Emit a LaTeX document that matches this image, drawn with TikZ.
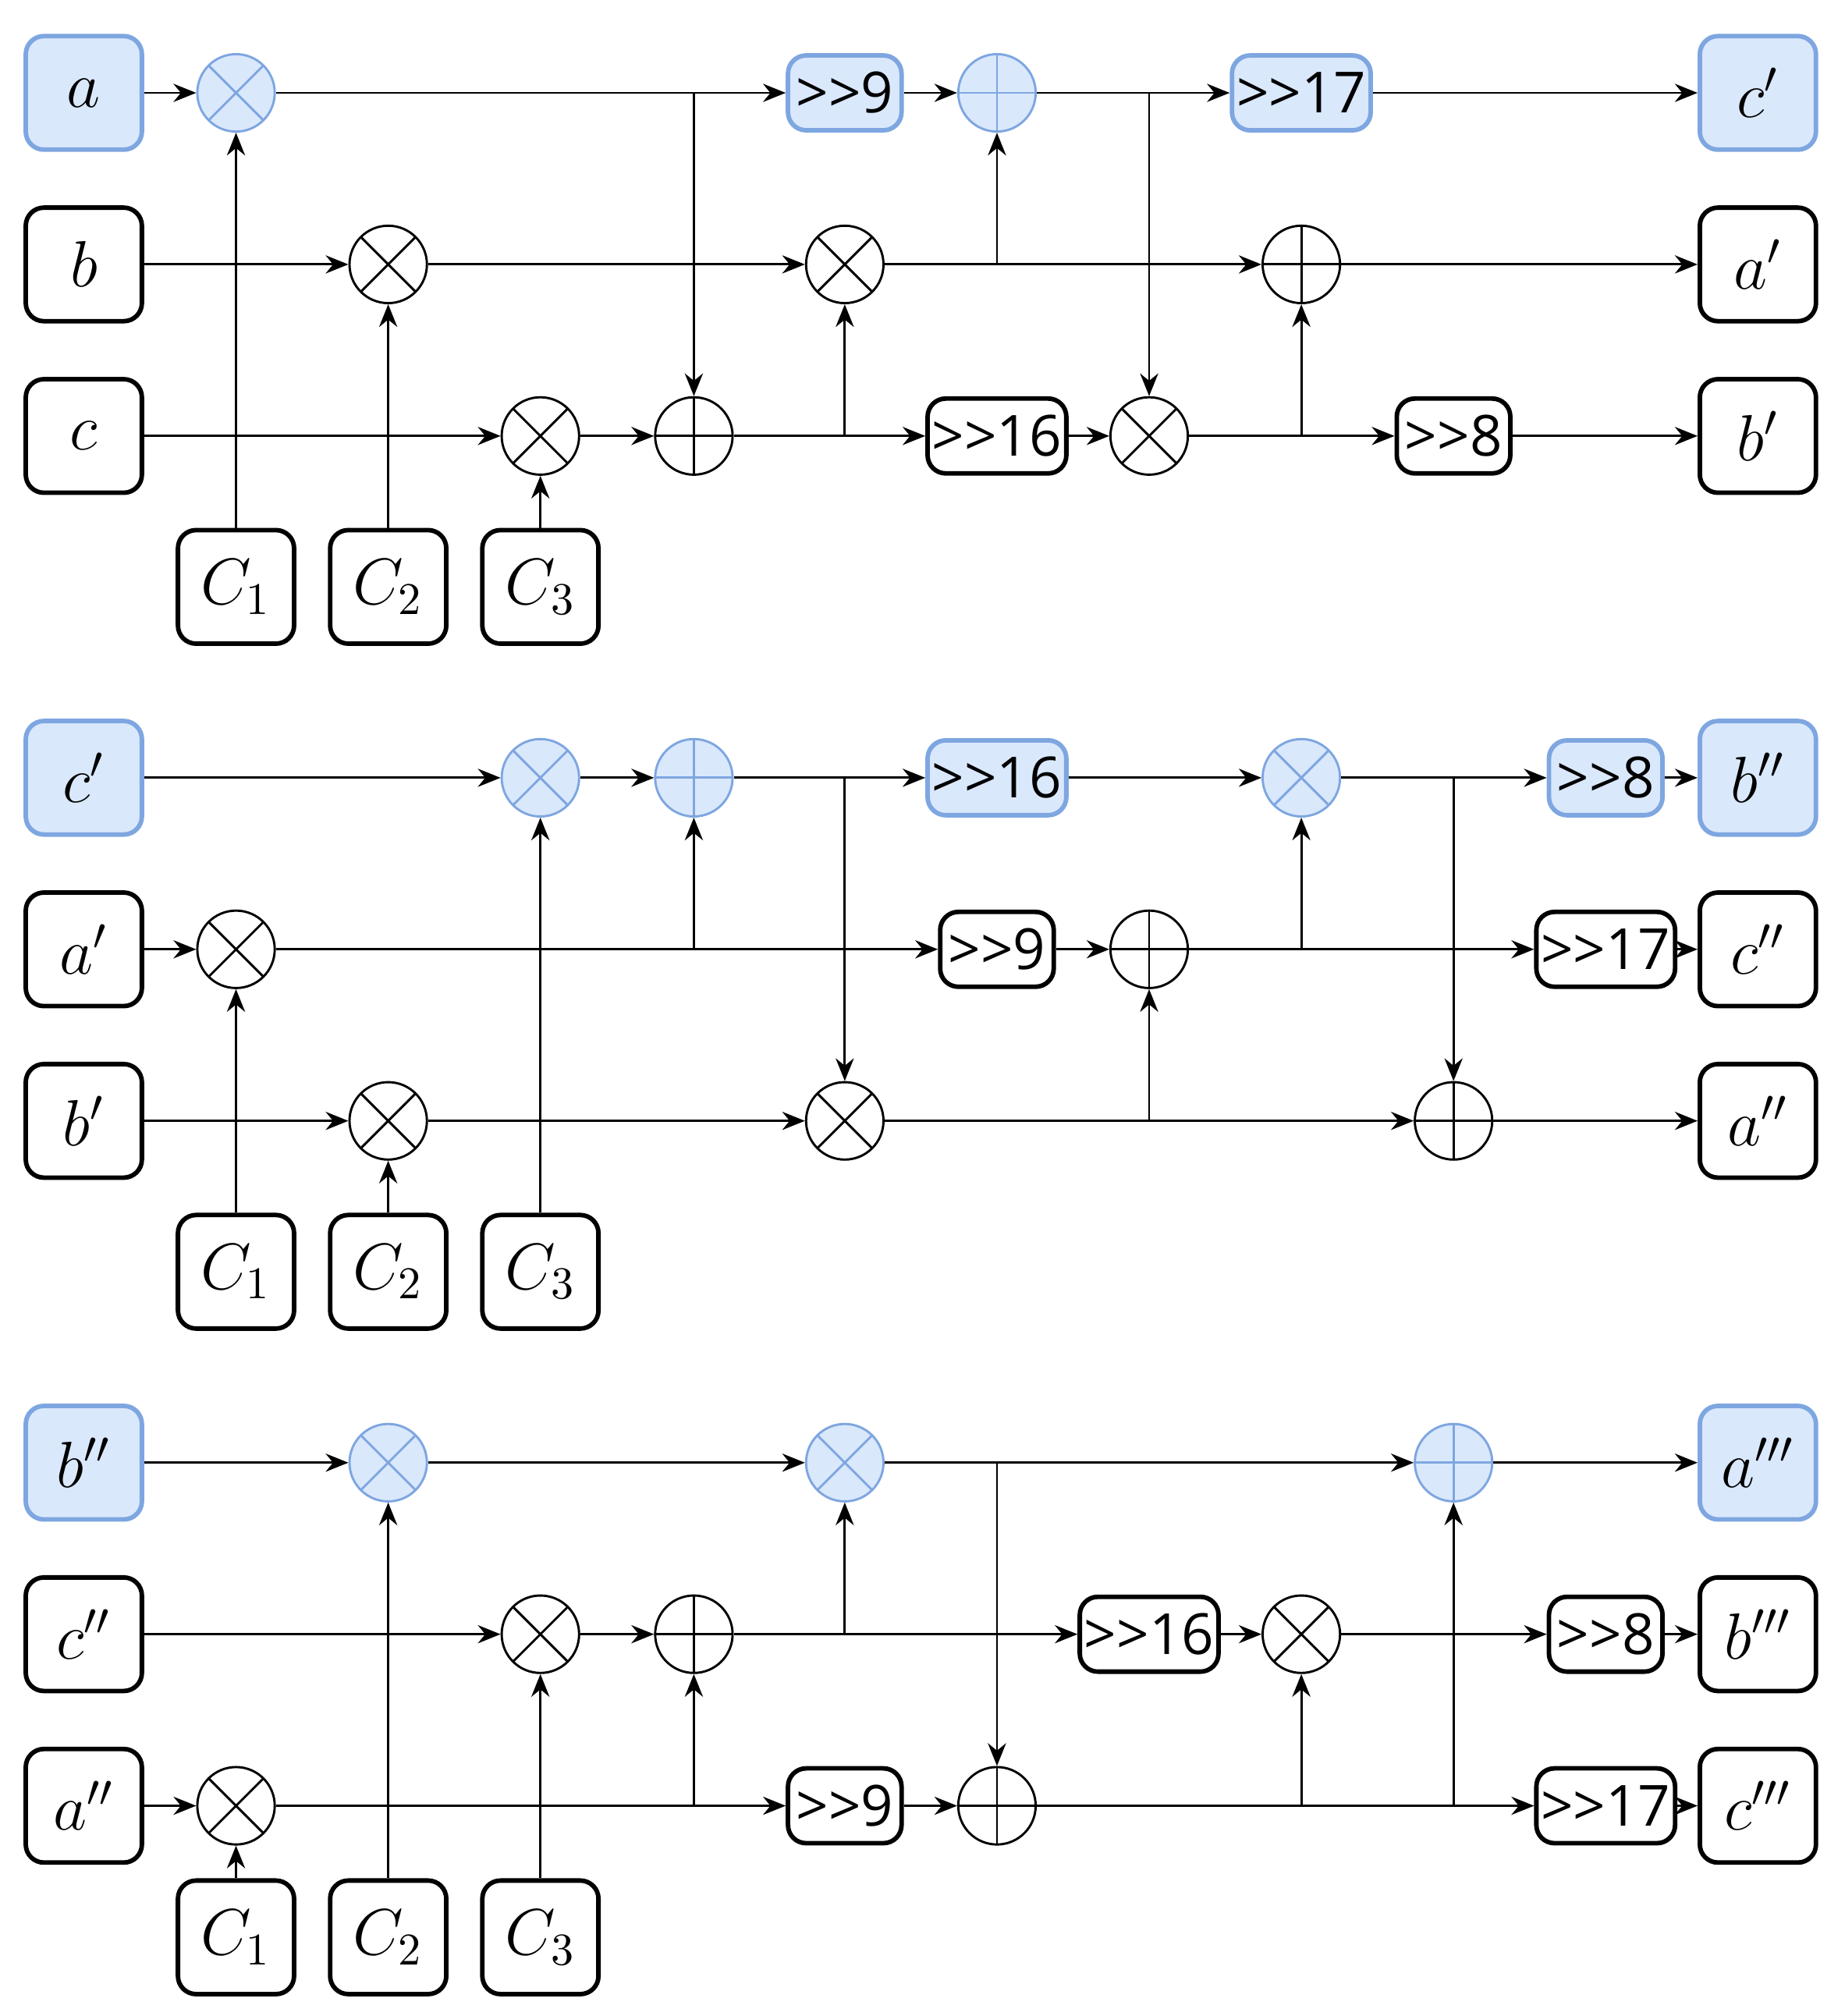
\documentclass[tikz,border=0pt]{standalone}
\usepackage{fontspec}
\newfontfamily\shiftfont{Open Sans}
\usetikzlibrary{arrows.meta}
\definecolor{hlfill}{HTML}{DAE8FC}
\definecolor{hldraw}{HTML}{7EA6E0}
\tikzset{
  box/.style={draw,rounded corners=4pt,line width=1pt,minimum width=0.9cm,minimum height=0.88cm,font=\fontsize{14}{16}\selectfont},
  sh/.style={draw,rounded corners=4pt,line width=1pt,minimum width=0.88cm,minimum height=0.58cm,font=\shiftfont\fontsize{12.5}{14}\selectfont,inner sep=1pt},
  mul/.style={circle,draw,minimum size=0.6cm,inner sep=0pt,path picture={
      \draw (path picture bounding box.north west) -- (path picture bounding box.south east)
            (path picture bounding box.north east) -- (path picture bounding box.south west);}},
  add/.style={circle,draw,minimum size=0.6cm,inner sep=0pt,path picture={
      \draw (path picture bounding box.north) -- (path picture bounding box.south)
            (path picture bounding box.west) -- (path picture bounding box.east);}},
  hl/.style={fill=hlfill,draw=hldraw},
  >={Stealth[length=5pt,width=4pt]}
}
\begin{document}
\begin{tikzpicture}[x=0.01cm,y=-0.01cm,line width=0.5pt]
\useasboundingbox (0,0) rectangle (1430,1563);
% block 1
\node[box,hl] (ia1) at (65,72) {$a$};
\node[box] (ib1) at (65,205) {$b$};
\node[box] (ic1) at (65,338) {$c$};
\node[box,hl] (oa1) at (1363,72) {$c'$};
\node[box] (ob1) at (1363,205) {$a'$};
\node[box] (oc1) at (1363,338) {$b'$};
\node[box] (ka1) at (183,455) {$C_1$};
\node[box] (kb1) at (301,455) {$C_2$};
\node[box] (kc1) at (419,455) {$C_3$};
\node[mul,hl] (m11) at (183,72) {};
\node[sh,hl] (s11) at (655,72) {>>9};
\node[add,hl] (p11) at (773,72) {};
\node[sh,hl] (s12) at (1009,72) {>>17};
\node[mul] (m12) at (301,205) {};
\node[mul] (m13) at (655,205) {};
\node[add] (p12) at (1009,205) {};
\node[mul] (m14) at (419,338) {};
\node[add] (p13) at (538,338) {};
\node[sh] (s13) at (773,338) {>>16};
\node[mul] (m15) at (891,338) {};
\node[sh] (s14) at (1127,338) {>>8};
\coordinate (j11) at (538,72);
\coordinate (j12) at (891,72);
\coordinate (j13) at (773,205);
\coordinate (j14) at (655,338);
\coordinate (j15) at (1009,338);
\draw[->] (ia1) -- (m11);
\draw[->] (m11) -- (s11);
\draw[->] (s11) -- (p11);
\draw[->] (p11) -- (s12);
\draw[->] (s12) -- (oa1);
\draw[->] (ib1) -- (m12);
\draw[->] (m12) -- (m13);
\draw[->] (m13) -- (p12);
\draw[->] (p12) -- (ob1);
\draw[->] (ic1) -- (m14);
\draw[->] (m14) -- (p13);
\draw[->] (p13) -- (s13);
\draw[->] (s13) -- (m15);
\draw[->] (m15) -- (s14);
\draw[->] (s14) -- (oc1);
\draw[->] (j11) -- (p13);
\draw[->] (j12) -- (m15);
\draw[->] (j13) -- (p11);
\draw[->] (j14) -- (m13);
\draw[->] (j15) -- (p12);
\draw[->] (ka1) -- (m11);
\draw[->] (kb1) -- (m12);
\draw[->] (kc1) -- (m14);
% block 2
\node[box,hl] (ia2) at (65,603) {$c'$};
\node[box] (ib2) at (65,736) {$a'$};
\node[box] (ic2) at (65,869) {$b'$};
\node[box,hl] (oa2) at (1363,603) {$b''$};
\node[box] (ob2) at (1363,736) {$c''$};
\node[box] (oc2) at (1363,869) {$a''$};
\node[box] (ka2) at (183,986) {$C_1$};
\node[box] (kb2) at (301,986) {$C_2$};
\node[box] (kc2) at (419,986) {$C_3$};
\node[mul,hl] (m21) at (419,603) {};
\node[add,hl] (p21) at (538,603) {};
\node[sh,hl] (s21) at (773,603) {>>16};
\node[mul,hl] (m22) at (1009,603) {};
\node[sh,hl] (s22) at (1245,603) {>>8};
\node[mul] (m23) at (183,736) {};
\node[sh] (s23) at (773,736) {>>9};
\node[add] (p22) at (891,736) {};
\node[sh] (s24) at (1245,736) {>>17};
\node[mul] (m24) at (301,869) {};
\node[mul] (m25) at (655,869) {};
\node[add] (p23) at (1127,869) {};
\coordinate (j21) at (655,603);
\coordinate (j22) at (1127,603);
\coordinate (j23) at (538,736);
\coordinate (j24) at (1009,736);
\coordinate (j25) at (891,869);
\draw[->] (ia2) -- (m21);
\draw[->] (m21) -- (p21);
\draw[->] (p21) -- (s21);
\draw[->] (s21) -- (m22);
\draw[->] (m22) -- (s22);
\draw[->] (s22) -- (oa2);
\draw[->] (ib2) -- (m23);
\draw[->] (m23) -- (s23);
\draw[->] (s23) -- (p22);
\draw[->] (p22) -- (s24);
\draw[->] (s24) -- (ob2);
\draw[->] (ic2) -- (m24);
\draw[->] (m24) -- (m25);
\draw[->] (m25) -- (p23);
\draw[->] (p23) -- (oc2);
\draw[->] (j21) -- (m25);
\draw[->] (j22) -- (p23);
\draw[->] (j23) -- (p21);
\draw[->] (j24) -- (m22);
\draw[->] (j25) -- (p22);
\draw[->] (ka2) -- (m23);
\draw[->] (kb2) -- (m24);
\draw[->] (kc2) -- (m21);
% block 3
\node[box,hl] (ia3) at (65,1134) {$b''$};
\node[box] (ib3) at (65,1267) {$c''$};
\node[box] (ic3) at (65,1400) {$a''$};
\node[box,hl] (oa3) at (1363,1134) {$a'''$};
\node[box] (ob3) at (1363,1267) {$b'''$};
\node[box] (oc3) at (1363,1400) {$c'''$};
\node[box] (ka3) at (183,1502) {$C_1$};
\node[box] (kb3) at (301,1502) {$C_2$};
\node[box] (kc3) at (419,1502) {$C_3$};
\node[mul,hl] (m31) at (301,1134) {};
\node[mul,hl] (m32) at (655,1134) {};
\node[add,hl] (p31) at (1127,1134) {};
\node[mul] (m33) at (419,1267) {};
\node[add] (p32) at (538,1267) {};
\node[sh] (s31) at (891,1267) {>>16};
\node[mul] (m34) at (1009,1267) {};
\node[sh] (s32) at (1245,1267) {>>8};
\node[mul] (m35) at (183,1400) {};
\node[sh] (s33) at (655,1400) {>>9};
\node[add] (p33) at (773,1400) {};
\node[sh] (s34) at (1245,1400) {>>17};
\coordinate (j31) at (773,1134);
\coordinate (j32) at (655,1267);
\coordinate (j33) at (538,1400);
\coordinate (j34) at (1009,1400);
\coordinate (j35) at (1127,1400);
\draw[->] (ia3) -- (m31);
\draw[->] (m31) -- (m32);
\draw[->] (m32) -- (p31);
\draw[->] (p31) -- (oa3);
\draw[->] (ib3) -- (m33);
\draw[->] (m33) -- (p32);
\draw[->] (p32) -- (s31);
\draw[->] (s31) -- (m34);
\draw[->] (m34) -- (s32);
\draw[->] (s32) -- (ob3);
\draw[->] (ic3) -- (m35);
\draw[->] (m35) -- (s33);
\draw[->] (s33) -- (p33);
\draw[->] (p33) -- (s34);
\draw[->] (s34) -- (oc3);
\draw[->] (j31) -- (p33);
\draw[->] (j32) -- (m32);
\draw[->] (j33) -- (p32);
\draw[->] (j34) -- (m34);
\draw[->] (j35) -- (p31);
\draw[->] (ka3) -- (m35);
\draw[->] (kb3) -- (m31);
\draw[->] (kc3) -- (m33);
\end{tikzpicture}
\end{document}
